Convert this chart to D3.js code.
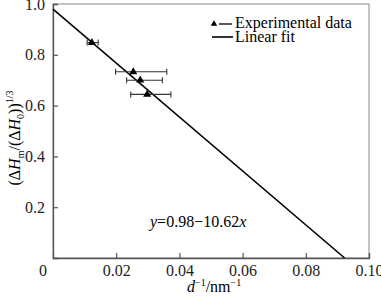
<!DOCTYPE html>
<html>
<head>
<meta charset="utf-8">
<script src="https://cdn.jsdelivr.net/npm/d3@7"></script>
</head>
<body style="margin:0;background:#fff">
<div id="plotarea"></div>
<script>
// data
var pointX = [0.0123, 0.0254, 0.0276, 0.0298];
var pointY = [0.848, 0.733, 0.700, 0.644];
var errLow = [0.0108, 0.0198, 0.0233, 0.0246];
var errHigh = [0.0143, 0.0360, 0.0346, 0.0373];
var fitIntercept = 0.98;
var fitSlope = -10.62;
var xTicks = [0.02, 0.04, 0.06, 0.08, 0.10];
var yTicks = [0.2, 0.4, 0.6, 0.8, 1.0];

var width = 381, height = 296;
var plotLeft = 53, plotRight = 369, plotTop = 4, plotBottom = 258;
var serif = "'Liberation Serif'";

var x = d3.scaleLinear().domain([0, 0.1]).range([plotLeft, plotRight]);
var y = d3.scaleLinear().domain([0, 1]).range([plotBottom, plotTop]);

var svg = d3.select("#plotarea").append("svg")
    .attr("width", width)
    .attr("height", height);

// frame (top/right lighter)
svg.append("rect")
    .attr("x", plotLeft).attr("y", plotTop)
    .attr("width", plotRight - plotLeft).attr("height", plotBottom - plotTop)
    .attr("fill", "none").attr("stroke", "#888").attr("stroke-width", 1);

// axes with inward ticks
var xAxis = svg.append("g")
    .attr("transform", "translate(0," + plotBottom + ")")
    .call(d3.axisBottom(x).tickValues(xTicks).tickSize(-5).tickPadding(7)
        .tickFormat(function(d){ return d === 0.1 ? "0.10" : d3.format(".2f")(d); }));
var yAxis = svg.append("g")
    .attr("transform", "translate(" + plotLeft + ",0)")
    .call(d3.axisLeft(y).tickValues(yTicks).tickSize(-5).tickPadding(8)
        .tickFormat(d3.format(".1f")));

svg.selectAll(".domain").attr("stroke", "#555").attr("stroke-width", 1.3);
svg.selectAll(".tick line").attr("stroke", "#555").attr("stroke-width", 1.2);
svg.selectAll(".tick text")
    .attr("font-size", 16)
    .attr("fill", "#222");

// origin label
svg.append("text")
    .attr("x", x(0) - 10).attr("y", 276)
    .attr("text-anchor", "middle")
    .attr("font-size", 16)
    .attr("fill", "#222")
    .text("0");

// fit line
var xEnd = -fitIntercept / fitSlope;
var fitData = [0, xEnd];
svg.append("path")
    .datum(fitData)
    .attr("fill", "none")
    .attr("stroke", "#000")
    .attr("stroke-width", 1.6)
    .attr("d", d3.line()
        .x(function(d){ return x(d); })
        .y(function(d){ return y(fitIntercept + fitSlope * d); }));

// error bars
var pts = pointX.map(function(d, i){
    return {x: d, y: pointY[i], lo: errLow[i], hi: errHigh[i]};
});
var eb = svg.append("g").attr("stroke", "#333").attr("stroke-width", 1.1);
eb.selectAll(".bar").data(pts).enter().append("line")
    .attr("x1", function(d){ return x(d.lo); })
    .attr("x2", function(d){ return x(d.hi); })
    .attr("y1", function(d){ return y(d.y); })
    .attr("y2", function(d){ return y(d.y); });
eb.selectAll(".capl").data(pts).enter().append("line")
    .attr("x1", function(d){ return x(d.lo); })
    .attr("x2", function(d){ return x(d.lo); })
    .attr("y1", function(d){ return y(d.y) - 3; })
    .attr("y2", function(d){ return y(d.y) + 3; });
eb.selectAll(".caph").data(pts).enter().append("line")
    .attr("x1", function(d){ return x(d.hi); })
    .attr("x2", function(d){ return x(d.hi); })
    .attr("y1", function(d){ return y(d.y) - 3; })
    .attr("y2", function(d){ return y(d.y) + 3; });

// triangle markers
var tri = d3.symbol().type(d3.symbolTriangle).size(28);
svg.selectAll(".pt").data(pts).enter().append("path")
    .attr("d", tri)
    .attr("fill", "#000")
    .attr("transform", function(d){ return "translate(" + x(d.x) + "," + y(d.y) + ")"; });

// legend
var lg = svg.append("g");
lg.append("path").attr("d", d3.symbol().type(d3.symbolTriangle).size(18)).attr("fill", "#000")
    .attr("transform", "translate(214,24)");
lg.append("line").attr("x1", 219).attr("x2", 232).attr("y1", 24).attr("y2", 24)
    .attr("stroke", "#000").attr("stroke-width", 1.3);
lg.append("text").attr("x", 235).attr("y", 28).attr("font-size", 16).text("Experimental data");
lg.append("line").attr("x1", 212).attr("x2", 233).attr("y1", 37).attr("y2", 37)
    .attr("stroke", "#000").attr("stroke-width", 1.6);
lg.append("text").attr("x", 235).attr("y", 42).attr("font-size", 16).text("Linear fit");

// equation
var eq = svg.append("text").attr("x", 150).attr("y", 227).attr("font-size", 16);
eq.append("tspan").attr("font-style", "italic").text("y");
eq.append("tspan").text("=0.98\u221210.62");
eq.append("tspan").attr("font-style", "italic").text("x");

// x label
var xl = svg.append("text").attr("x", 187).attr("y", 292).attr("font-size", 16);
xl.append("tspan").attr("font-style", "italic").text("d");
xl.append("tspan").attr("font-size", 10).attr("dy", -6).text("\u22121");
xl.append("tspan").attr("dy", 6).text("/nm");
xl.append("tspan").attr("font-size", 10).attr("dy", -6).text("\u22121");

// y label
var yl = svg.append("text")
    .attr("transform", "translate(20,138) rotate(-90)")
    .attr("text-anchor", "middle")
    .attr("font-size", 16);
yl.append("tspan").text("(\u0394");
yl.append("tspan").attr("font-style", "italic").text("H");
yl.append("tspan").attr("font-size", 10).attr("dy", 4).text("m");
yl.append("tspan").attr("dy", -4).text("/(\u0394");
yl.append("tspan").attr("font-style", "italic").text("H");
yl.append("tspan").attr("font-size", 10).attr("dy", 4).text("0");
yl.append("tspan").attr("dy", -4).text("))");
yl.append("tspan").attr("font-size", 10).attr("dy", -7).text("1/3");

// serif everywhere
svg.selectAll("g").attr("font-family", null);
svg.selectAll("text").style("font-family", serif);
</script>
</body>
</html>
